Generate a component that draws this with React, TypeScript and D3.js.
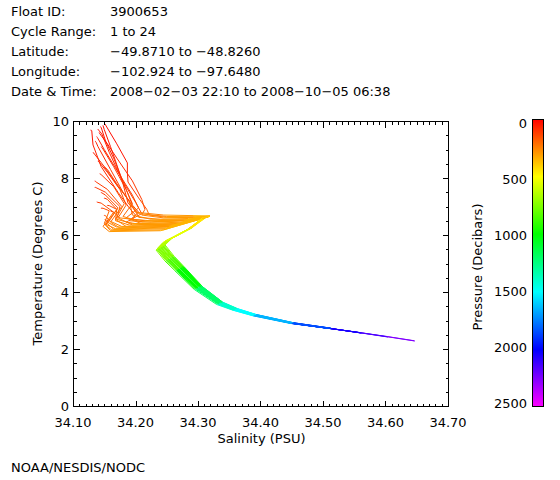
import React from 'react';
import * as d3 from 'd3';

const HEADER_LABELS = ['Float ID:', 'Cycle Range:', 'Latitude:', 'Longitude:', 'Date & Time:'];
const HEADER_VALUES = [
  '3900653',
  '1 to 24',
  '\u221249.8710 to \u221248.8260',
  '\u2212102.924 to \u221297.6480',
  '2008\u221202\u221203 22:10 to 2008\u221210\u221205 06:38',
];
const CREDIT = 'NOAA/NESDIS/NODC';
const X_TITLE = 'Salinity (PSU)';
const Y_TITLE = 'Temperature (Degrees C)';
const C_TITLE = 'Pressure (Decibars)';

const SAL_DOMAIN = [34.1, 34.7];
const TEMP_DOMAIN = [0, 10];
const PRES_DOMAIN = [0, 2500];
const X_TICKS = [34.1, 34.2, 34.3, 34.4, 34.5, 34.6, 34.7];
const Y_TICKS = [0, 2, 4, 6, 8, 10];
const C_TICKS = [0, 500, 1000, 1500, 2000, 2500];

// pressure levels (dbar) shared by every cycle
const PRESSURE = [5, 20, 40, 60, 80, 110, 150, 200, 250, 300, 350, 400, 450, 550, 650, 750, 850, 1000, 1200, 1400, 1500, 1650, 1850, 2050, 2150, 2250, 2350];

// temperature per cycle (deg C), one array per cycle 1..24
const TEMP: number[][] = [
  [9.92, 9.90, 9.20, 8.53, 8.18, 7.86, 7.30, 6.90, 6.70, 6.62, 6.62, 6.66, 6.60, 6.21, 5.83, 5.56, 5.17, 4.83, 4.16, 3.61, 3.39, 3.19, 2.91, 2.73],
  [9.85, 9.84, 9.70, 9.10, 8.60, 7.80, 7.12, 6.85, 6.62, 6.55, 6.58, 6.65, 6.62, 6.18, 5.80, 5.55, 5.20, 4.88, 4.20, 3.63, 3.40, 3.20, 2.92, 2.74],
  [9.80, 9.79, 9.78, 9.30, 8.70, 7.60, 7.05, 6.80, 6.50, 6.45, 6.50, 6.63, 6.60, 6.25, 5.88, 5.60, 5.18, 4.82, 4.12, 3.58, 3.37, 3.17, 2.89, 2.71],
  [9.72, 9.71, 9.68, 9.55, 8.90, 7.95, 7.15, 6.75, 6.45, 6.35, 6.40, 6.62, 6.61, 6.15, 5.75, 5.50, 5.15, 4.84, 4.18, 3.62, 3.40, 3.20, 2.92, 2.74, 2.57],
  [9.68, 9.68, 9.66, 9.16, 8.40, 7.50, 6.95, 6.70, 6.55, 6.48, 6.52, 6.65, 6.60, 6.22, 5.86, 5.62, 5.24, 4.90, 4.22, 3.64, 3.41, 3.21, 2.92, 2.73],
  [9.60, 9.59, 9.55, 9.20, 8.70, 7.90, 7.25, 6.90, 6.70, 6.60, 6.62, 6.66, 6.62, 6.20, 5.80, 5.52, 5.12, 4.78, 4.13, 3.59, 3.38, 3.18, 2.90, 2.72, 2.58, 2.43, 2.28],
  [9.45, 9.44, 9.42, 9.38, 9.00, 8.10, 7.40, 6.95, 6.60, 6.40, 6.45, 6.64, 6.61, 6.28, 5.92, 5.66, 5.25, 4.88, 4.17, 3.60, 3.38, 3.18, 2.90, 2.71],
  [9.30, 9.30, 9.28, 9.25, 9.10, 8.30, 7.50, 7.00, 6.75, 6.65, 6.64, 6.66, 6.63, 6.16, 5.76, 5.48, 5.10, 4.76, 4.10, 3.57, 3.36, 3.17, 2.90, 2.73],
  [9.10, 9.10, 9.09, 9.07, 9.05, 8.40, 7.60, 7.10, 6.65, 6.45, 6.50, 6.64, 6.62, 6.23, 5.84, 5.58, 5.20, 4.86, 4.19, 3.62, 3.40, 3.20, 2.91, 2.72, 2.56],
  [8.90, 8.90, 8.89, 8.88, 8.85, 8.40, 7.70, 7.20, 6.80, 6.70, 6.68, 6.67, 6.63, 6.20, 5.82, 5.54, 5.14, 4.80, 4.14, 3.60, 3.38, 3.18, 2.90, 2.72],
  [8.60, 8.60, 8.59, 8.58, 8.55, 8.20, 7.60, 7.05, 6.60, 6.35, 6.40, 6.63, 6.61, 6.24, 5.87, 5.63, 5.26, 4.92, 4.24, 3.65, 3.42, 3.21, 2.92, 2.73],
  [8.40, 8.40, 8.39, 8.38, 8.37, 8.30, 7.80, 7.20, 6.70, 6.55, 6.55, 6.64, 6.60, 6.17, 5.78, 5.51, 5.13, 4.79, 4.12, 3.58, 3.37, 3.18, 2.91, 2.73, 2.57, 2.42],
  [8.15, 8.15, 8.14, 8.14, 8.13, 8.10, 7.70, 7.10, 6.55, 6.30, 6.35, 6.62, 6.60, 6.21, 5.84, 5.57, 5.18, 4.85, 4.18, 3.62, 3.39, 3.19, 2.91, 2.72],
  [7.90, 7.90, 7.89, 7.89, 7.88, 7.86, 7.60, 7.00, 6.45, 6.25, 6.30, 6.61, 6.60, 6.27, 5.90, 5.64, 5.23, 4.87, 4.16, 3.59, 3.37, 3.17, 2.89, 2.71],
  [7.68, 7.68, 7.68, 7.67, 7.67, 7.66, 7.50, 7.00, 6.55, 6.40, 6.42, 6.63, 6.61, 6.19, 5.79, 5.53, 5.16, 4.82, 4.15, 3.61, 3.39, 3.19, 2.91, 2.73, 2.56],
  [7.50, 7.50, 7.50, 7.49, 7.49, 7.48, 7.40, 6.95, 6.40, 6.20, 6.25, 6.60, 6.60, 6.23, 5.86, 5.61, 5.22, 4.89, 4.21, 3.63, 3.40, 3.20, 2.91, 2.72],
  [7.30, 7.30, 7.30, 7.30, 7.29, 7.29, 7.25, 6.90, 6.35, 6.15, 6.18, 6.59, 6.59, 6.14, 5.74, 5.47, 5.09, 4.75, 4.09, 3.56, 3.36, 3.17, 2.90, 2.73],
  [7.16, 7.16, 7.16, 7.16, 7.15, 7.15, 7.12, 6.80, 6.30, 6.12, 6.15, 6.59, 6.60, 6.22, 5.85, 5.59, 5.21, 4.87, 4.20, 3.63, 3.40, 3.20, 2.91, 2.72, 2.58, 2.44, 2.29],
  [7.05, 7.05, 7.05, 7.05, 7.05, 7.04, 7.03, 6.90, 6.50, 6.35, 6.38, 6.62, 6.60, 6.20, 5.81, 5.54, 5.15, 4.81, 4.14, 3.60, 3.38, 3.18, 2.90, 2.72],
  [6.95, 6.95, 6.95, 6.95, 6.95, 6.94, 6.94, 6.85, 6.40, 6.22, 6.28, 6.61, 6.59, 6.26, 5.89, 5.62, 5.21, 4.86, 4.16, 3.59, 3.37, 3.17, 2.89, 2.71],
  [6.85, 6.85, 6.85, 6.85, 6.85, 6.85, 6.84, 6.80, 6.60, 6.50, 6.52, 6.64, 6.60, 6.17, 5.77, 5.50, 5.12, 4.78, 4.11, 3.58, 3.37, 3.18, 2.91, 2.73, 2.57],
  [6.70, 6.70, 6.70, 6.70, 6.70, 6.69, 6.69, 6.68, 6.50, 6.30, 6.34, 6.62, 6.60, 6.21, 5.83, 5.57, 5.19, 4.85, 4.18, 3.62, 3.39, 3.19, 2.91, 2.72],
  [6.55, 6.55, 6.55, 6.55, 6.55, 6.55, 6.54, 6.54, 6.45, 6.28, 6.30, 6.61, 6.59, 6.24, 5.87, 5.62, 5.24, 4.90, 4.22, 3.64, 3.41, 3.21, 2.92, 2.73],
  [6.50, 6.50, 6.50, 6.50, 6.50, 6.50, 6.50, 6.49, 6.35, 6.18, 6.22, 6.60, 6.60, 6.19, 5.80, 5.53, 5.14, 4.80, 4.13, 3.59, 3.38, 3.18, 2.90, 2.72],
];

// salinity per cycle (PSU), one array per cycle 1..24
const SALT: number[][] = [
  [34.150, 34.151, 34.170, 34.187, 34.187, 34.188, 34.205, 34.218, 34.222, 34.250, 34.290, 34.318, 34.312, 34.286, 34.252, 34.240, 34.255, 34.271, 34.301, 34.336, 34.361, 34.391, 34.451, 34.511],
  [34.148, 34.148, 34.150, 34.160, 34.168, 34.180, 34.188, 34.200, 34.205, 34.240, 34.285, 34.317, 34.310, 34.283, 34.248, 34.236, 34.250, 34.266, 34.297, 34.333, 34.358, 34.389, 34.449, 34.508],
  [34.144, 34.144, 34.145, 34.152, 34.165, 34.185, 34.195, 34.205, 34.190, 34.225, 34.280, 34.315, 34.308, 34.290, 34.258, 34.245, 34.260, 34.276, 34.305, 34.340, 34.364, 34.394, 34.454, 34.514],
  [34.140, 34.140, 34.141, 34.146, 34.158, 34.178, 34.200, 34.210, 34.185, 34.215, 34.275, 34.312, 34.309, 34.280, 34.245, 34.234, 34.248, 34.264, 34.295, 34.331, 34.357, 34.388, 34.447, 34.506, 34.560],
  [34.128, 34.129, 34.130, 34.132, 34.145, 34.172, 34.190, 34.200, 34.195, 34.235, 34.283, 34.318, 34.310, 34.288, 34.255, 34.243, 34.258, 34.273, 34.303, 34.338, 34.362, 34.392, 34.452, 34.512],
  [34.142, 34.142, 34.143, 34.155, 34.170, 34.195, 34.210, 34.215, 34.210, 34.245, 34.292, 34.319, 34.311, 34.284, 34.250, 34.238, 34.253, 34.269, 34.299, 34.335, 34.360, 34.390, 34.450, 34.510, 34.558, 34.603, 34.647],
  [34.138, 34.138, 34.139, 34.140, 34.150, 34.175, 34.195, 34.205, 34.185, 34.210, 34.272, 34.317, 34.312, 34.292, 34.260, 34.247, 34.262, 34.278, 34.308, 34.342, 34.366, 34.396, 34.456, 34.515],
  [34.136, 34.136, 34.136, 34.137, 34.140, 34.160, 34.180, 34.195, 34.205, 34.250, 34.295, 34.319, 34.313, 34.281, 34.246, 34.235, 34.249, 34.265, 34.296, 34.332, 34.357, 34.388, 34.448, 34.507],
  [34.145, 34.145, 34.145, 34.146, 34.147, 34.165, 34.185, 34.195, 34.180, 34.210, 34.275, 34.316, 34.311, 34.287, 34.254, 34.241, 34.256, 34.272, 34.302, 34.337, 34.361, 34.391, 34.451, 34.511, 34.561],
  [34.132, 34.132, 34.132, 34.133, 34.134, 34.150, 34.172, 34.190, 34.200, 34.245, 34.292, 34.319, 34.312, 34.285, 34.251, 34.239, 34.254, 34.270, 34.300, 34.335, 34.360, 34.390, 34.450, 34.510],
  [34.140, 34.140, 34.140, 34.141, 34.142, 34.155, 34.175, 34.185, 34.172, 34.195, 34.268, 34.315, 34.310, 34.289, 34.257, 34.244, 34.259, 34.275, 34.304, 34.339, 34.363, 34.393, 34.453, 34.513],
  [34.150, 34.150, 34.150, 34.150, 34.151, 34.155, 34.170, 34.190, 34.195, 34.225, 34.282, 34.316, 34.309, 34.282, 34.247, 34.236, 34.251, 34.267, 34.298, 34.334, 34.359, 34.389, 34.449, 34.509, 34.559, 34.604],
  [34.143, 34.143, 34.143, 34.143, 34.144, 34.146, 34.165, 34.182, 34.168, 34.185, 34.262, 34.313, 34.308, 34.286, 34.253, 34.241, 34.256, 34.272, 34.302, 34.336, 34.361, 34.391, 34.451, 34.511],
  [34.135, 34.135, 34.135, 34.135, 34.136, 34.137, 34.155, 34.178, 34.160, 34.175, 34.258, 34.312, 34.309, 34.291, 34.259, 34.246, 34.261, 34.277, 34.306, 34.341, 34.365, 34.395, 34.455, 34.514],
  [34.135, 34.135, 34.135, 34.135, 34.136, 34.137, 34.152, 34.175, 34.170, 34.195, 34.270, 34.314, 34.310, 34.283, 34.249, 34.237, 34.252, 34.268, 34.298, 34.334, 34.359, 34.389, 34.449, 34.509, 34.562],
  [34.145, 34.145, 34.145, 34.145, 34.145, 34.146, 34.152, 34.172, 34.155, 34.165, 34.250, 34.310, 34.308, 34.288, 34.256, 34.243, 34.258, 34.274, 34.303, 34.338, 34.362, 34.392, 34.452, 34.512],
  [34.150, 34.150, 34.150, 34.150, 34.150, 34.151, 34.155, 34.170, 34.152, 34.160, 34.245, 34.309, 34.307, 34.280, 34.244, 34.233, 34.247, 34.263, 34.294, 34.330, 34.356, 34.387, 34.447, 34.506],
  [34.138, 34.138, 34.138, 34.138, 34.139, 34.139, 34.145, 34.165, 34.148, 34.158, 34.240, 34.309, 34.307, 34.287, 34.254, 34.242, 34.257, 34.273, 34.303, 34.337, 34.362, 34.392, 34.452, 34.512, 34.557, 34.602, 34.646],
  [34.155, 34.155, 34.155, 34.155, 34.155, 34.155, 34.158, 34.170, 34.168, 34.190, 34.265, 34.313, 34.308, 34.285, 34.251, 34.239, 34.254, 34.270, 34.300, 34.335, 34.360, 34.390, 34.450, 34.510],
  [34.145, 34.145, 34.145, 34.145, 34.145, 34.145, 34.148, 34.158, 34.150, 34.168, 34.252, 34.311, 34.307, 34.290, 34.258, 34.245, 34.260, 34.276, 34.305, 34.340, 34.364, 34.394, 34.454, 34.513],
  [34.160, 34.160, 34.160, 34.160, 34.160, 34.160, 34.160, 34.165, 34.175, 34.215, 34.278, 34.316, 34.309, 34.282, 34.248, 34.236, 34.250, 34.266, 34.297, 34.333, 34.358, 34.388, 34.448, 34.508, 34.560],
  [34.150, 34.150, 34.150, 34.150, 34.150, 34.150, 34.150, 34.152, 34.158, 34.178, 34.258, 34.312, 34.308, 34.286, 34.252, 34.240, 34.255, 34.271, 34.301, 34.336, 34.361, 34.391, 34.451, 34.511],
  [34.151, 34.151, 34.151, 34.151, 34.151, 34.151, 34.151, 34.152, 34.155, 34.170, 34.254, 34.311, 34.307, 34.289, 34.256, 34.244, 34.259, 34.275, 34.304, 34.339, 34.363, 34.393, 34.453, 34.513],
  [34.155, 34.155, 34.155, 34.155, 34.155, 34.155, 34.155, 34.156, 34.152, 34.162, 34.248, 34.310, 34.307, 34.284, 34.250, 34.238, 34.252, 34.268, 34.299, 34.334, 34.359, 34.390, 34.450, 34.510],
];

const FONT = '"DejaVu Sans", sans-serif';

export default function App() {
  const W = 560;
  const H = 480;
  const plot = { left: 73, right: 448, top: 121, bottom: 406 };
  const bar = { left: 532, right: 544, top: 119, bottom: 407 };

  const x = d3.scaleLinear().domain(SAL_DOMAIN).range([plot.left, plot.right]);
  const y = d3.scaleLinear().domain(TEMP_DOMAIN).range([plot.bottom, plot.top]);
  const hue = d3.scaleLinear().domain(PRES_DOMAIN).range([0, 300]);
  const colorOf = (p: number) => d3.hsl(hue(p), 1, 0.5).formatHex();
  const cLabel = d3.scaleLinear().domain(PRES_DOMAIN).range([123, 403]);

  const segments: { x1: number; y1: number; x2: number; y2: number; c: string }[] = [];
  TEMP.forEach((tArr, ci) => {
    const sArr = SALT[ci];
    for (let i = 0; i < tArr.length - 1; i++) {
      segments.push({
        x1: x(sArr[i]),
        y1: y(tArr[i]),
        x2: x(sArr[i + 1]),
        y2: y(tArr[i + 1]),
        c: colorOf(PRESSURE[i]),
      });
    }
  });

  const xMinor = d3.range(0, 61).map((i) => SAL_DOMAIN[0] + i * 0.01);
  const yMinor = d3.range(0, 21).map((i) => i * 0.5);
  const gradStops = d3.range(0, 11).map((i) => i / 10);

  const fs = 13;

  return (
    <svg
      width={W}
      height={H}
      style={{ position: 'absolute', left: 0, top: 0, background: '#fff' }}
      fontFamily={FONT}
      fontSize={fs}
    >
      <rect x={0} y={0} width={W} height={H} fill="#fff" />
      {HEADER_LABELS.map((l, i) => (
        <g key={l}>
          <text x={11} y={16 + i * 20.1} fill="#000">{l}</text>
          <text x={110} y={16 + i * 20.1} fill="#000">{HEADER_VALUES[i]}</text>
        </g>
      ))}

      <g>
        {segments.map((s, i) => (
          <line key={i} x1={s.x1} y1={s.y1} x2={s.x2} y2={s.y2} stroke={s.c} strokeWidth={1} />
        ))}
      </g>

      <g transform="translate(0.5,0.5)" shapeRendering="crispEdges" stroke="#000" strokeWidth={1}>
        <rect x={plot.left} y={plot.top} width={plot.right - plot.left} height={plot.bottom - plot.top} fill="none" />
        {xMinor.map((v, i) => {
          const major = i % 10 === 0;
          const len = major ? 6 : 3;
          const xx = Math.round(x(v));
          return (
            <g key={'xm' + i}>
              <line x1={xx} x2={xx} y1={plot.bottom} y2={plot.bottom - len} />
              <line x1={xx} x2={xx} y1={plot.top} y2={plot.top + len} />
            </g>
          );
        })}
        {yMinor.map((v, i) => {
          const major = i % 4 === 0;
          const len = major ? 6 : 3;
          const yy = Math.round(y(v));
          return (
            <g key={'ym' + i}>
              <line x1={plot.left} x2={plot.left + len} y1={yy} y2={yy} />
              <line x1={plot.right} x2={plot.right - len} y1={yy} y2={yy} />
            </g>
          );
        })}
      </g>

      {X_TICKS.map((v) => (
        <text key={'xt' + v} x={x(v)} y={427} textAnchor="middle" fill="#000">
          {d3.format('.2f')(v)}
        </text>
      ))}
      {Y_TICKS.map((v) => (
        <text key={'yt' + v} x={69} y={y(v) + 5} textAnchor="end" fill="#000">
          {v}
        </text>
      ))}
      <text x={(plot.left + plot.right) / 2 + 1} y={443} textAnchor="middle" fill="#000">{X_TITLE}</text>
      <text transform={`translate(42,${(plot.top + plot.bottom) / 2}) rotate(-90)`} textAnchor="middle" fill="#000">{Y_TITLE}</text>

      <defs>
        <linearGradient id="pbar" x1="0" y1="0" x2="0" y2="1">
          {gradStops.map((t) => (
            <stop key={t} offset={t} stopColor={colorOf(PRES_DOMAIN[0] + t * (PRES_DOMAIN[1] - PRES_DOMAIN[0]))} />
          ))}
        </linearGradient>
      </defs>
      <rect x={bar.left} y={bar.top} width={bar.right - bar.left} height={bar.bottom - bar.top} fill="url(#pbar)" />
      <rect x={bar.left + 0.5} y={bar.top + 0.5} width={bar.right - bar.left - 1} height={bar.bottom - bar.top - 1} fill="none" stroke="#000" strokeWidth={1} />
      {C_TICKS.map((v) => (
        <text key={'ct' + v} x={527} y={cLabel(v) + 5} textAnchor="end" fill="#000">
          {v}
        </text>
      ))}
      <text transform={`translate(482,267) rotate(-90)`} textAnchor="middle" fill="#000">{C_TITLE}</text>

      <text x={11} y={472} fill="#000">{CREDIT}</text>
    </svg>
  );
}
